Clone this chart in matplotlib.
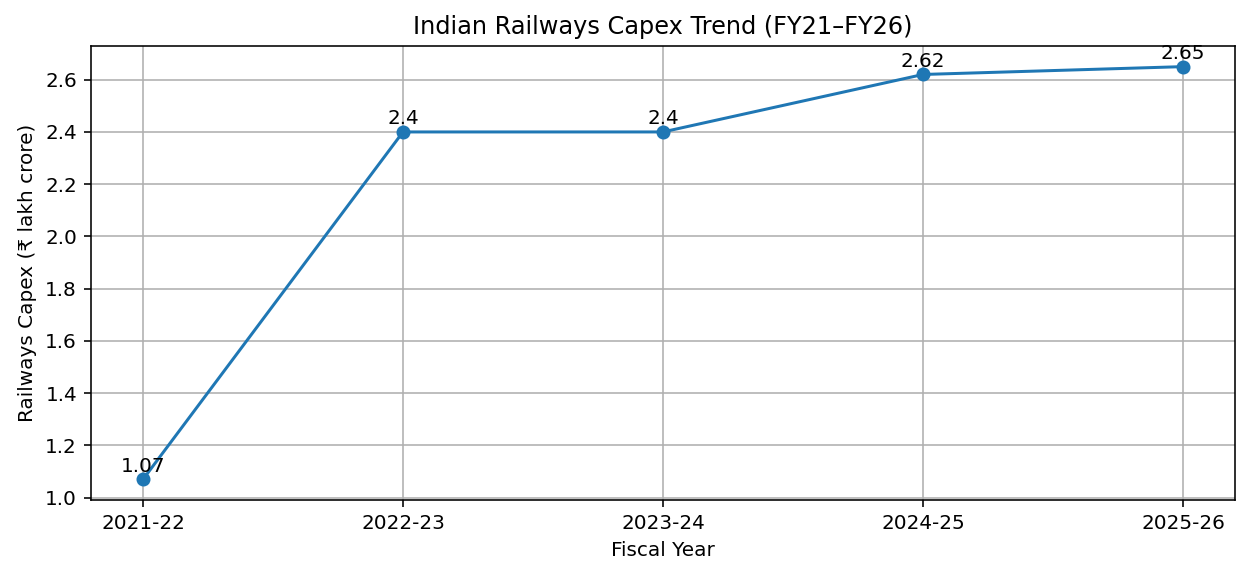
import matplotlib
matplotlib.use("Agg")
import matplotlib.pyplot as plt

# Railways capex, lakh crore
years = ["2021-22", "2022-23", "2023-24", "2024-25", "2025-26"]
capex = [1.07, 2.4, 2.4, 2.62, 2.65]

fig = plt.figure(figsize=(1249 / 144, 578 / 144), dpi=144)
plt.plot(years, capex, marker='o')
for i, v in enumerate(capex):
    plt.text(i, v + 0.03, f"{v}", ha='center')
plt.xlabel('Fiscal Year')
plt.ylabel('Railways Capex (₹ lakh crore)')
plt.title('Indian Railways Capex Trend (FY21–FY26)')
plt.grid(True)
plt.subplots_adjust(left=91 / 1249, right=1235 / 1249, top=1 - 46 / 578, bottom=1 - 500 / 578)
plt.savefig("out.png", dpi=144)
